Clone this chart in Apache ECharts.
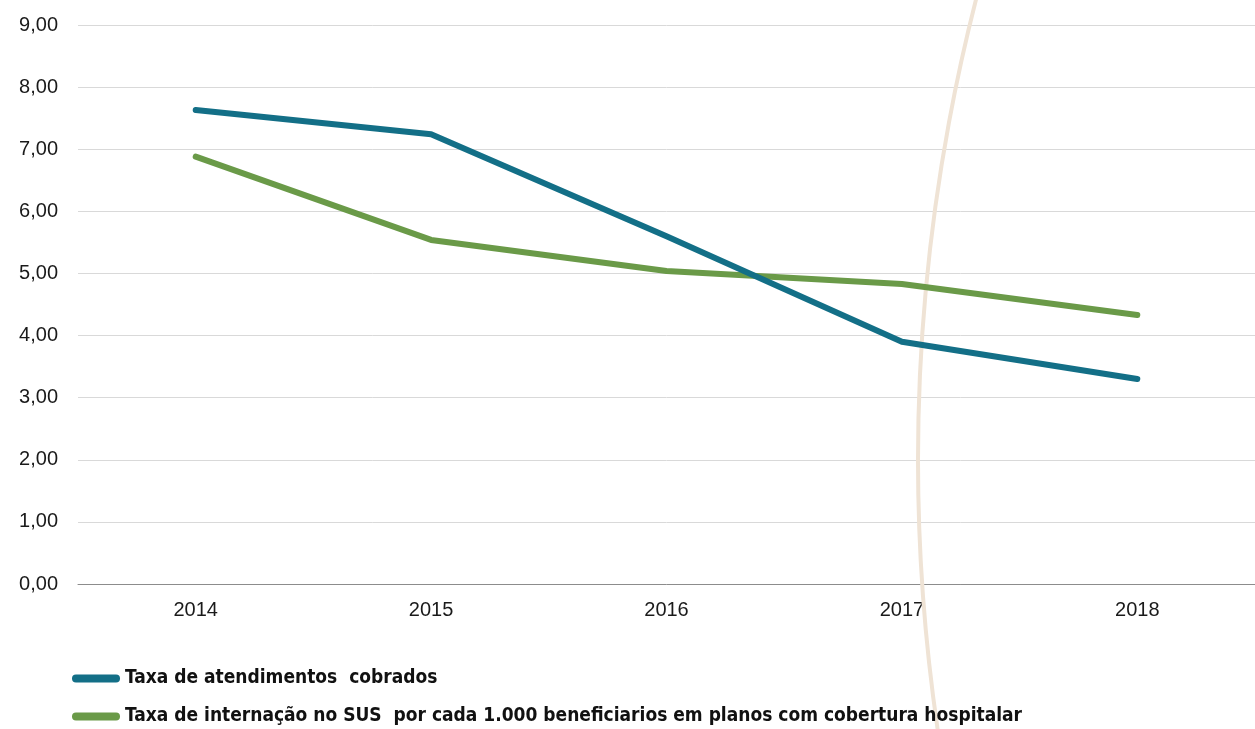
<!DOCTYPE html>
<html>
<head>
<meta charset="utf-8">
<script src="https://cdn.jsdelivr.net/npm/echarts@6/dist/echarts.min.js"></script>
<style>html,body{margin:0;padding:0;background:#fff}#c{width:1255px;height:729px}</style>
</head>
<body>
<div id="c"></div>
<script>
const years = ['2014', '2015', '2016', '2017', '2018'];
const seriesNames = ['Taxa de atendimentos  cobrados', 'Taxa de internação no SUS  por cada 1.000 beneficiarios em planos com cobertura hospitalar'];
const atendimentos = [7.63, 7.24, 5.60, 3.90, 3.30];
const internacao = [6.88, 5.54, 5.04, 4.83, 4.33];
const yTicks = [0, 1, 2, 3, 4, 5, 6, 7, 8, 9];

const chart = echarts.init(document.getElementById('c'), null, {renderer: 'canvas'});
const capsule = 'path://M4,0 L44,0 A4,4 0 0 1 44,8 L4,8 A4,4 0 0 1 4,0 Z';
const legendText = {fontFamily: '"DejaVu Sans Condensed", sans-serif', fontWeight: 'bold', fontSize: 19, color: '#111'};
chart.setOption({
  animation: false,
  grid: {left: 78, right: 0, top: 25, bottom: 145, containLabel: false},
  legend: [
    {data: [seriesNames[0]], left: 72, top: 669, icon: capsule, itemWidth: 48, itemHeight: 8, textStyle: legendText, padding: 0},
    {data: [seriesNames[1]], left: 72, top: 707, icon: capsule, itemWidth: 48, itemHeight: 8, textStyle: legendText, padding: 0}
  ],
  xAxis: {
    type: 'category', data: years, boundaryGap: true,
    axisLine: {lineStyle: {color: '#8c8c8c', width: 1}},
    axisTick: {show: false},
    axisLabel: {fontFamily: '"Liberation Sans", Arial, sans-serif', fontSize: 20, color: '#1a1a1a', margin: 16}
  },
  yAxis: {
    type: 'value', min: yTicks[0], max: yTicks[yTicks.length - 1], interval: 1,
    axisLine: {show: false}, axisTick: {show: false},
    splitLine: {lineStyle: {color: '#d9d9d9', width: 1}},
    axisLabel: {fontFamily: '"Liberation Sans", Arial, sans-serif', fontSize: 20, color: '#1a1a1a', margin: 20,
      formatter: v => v.toFixed(2).replace('.', ',')}
  },
  graphic: [{
    type: 'circle', z: 1, silent: true,
    shape: {cx: 2774, cy: 460, r: 1856},
    style: {fill: null, stroke: '#efe3d5', lineWidth: 4}
  }],
  series: [
    {name: seriesNames[0], type: 'line', data: atendimentos, symbol: 'none', z: 3,
      lineStyle: {color: '#136f87', width: 6, cap: 'round', join: 'round'}, itemStyle: {color: '#136f87'}},
    {name: seriesNames[1], type: 'line', data: internacao, symbol: 'none', z: 2,
      lineStyle: {color: '#6a9a48', width: 6, cap: 'round', join: 'round'}, itemStyle: {color: '#6a9a48'}}
  ]
});
</script>
</body>
</html>
